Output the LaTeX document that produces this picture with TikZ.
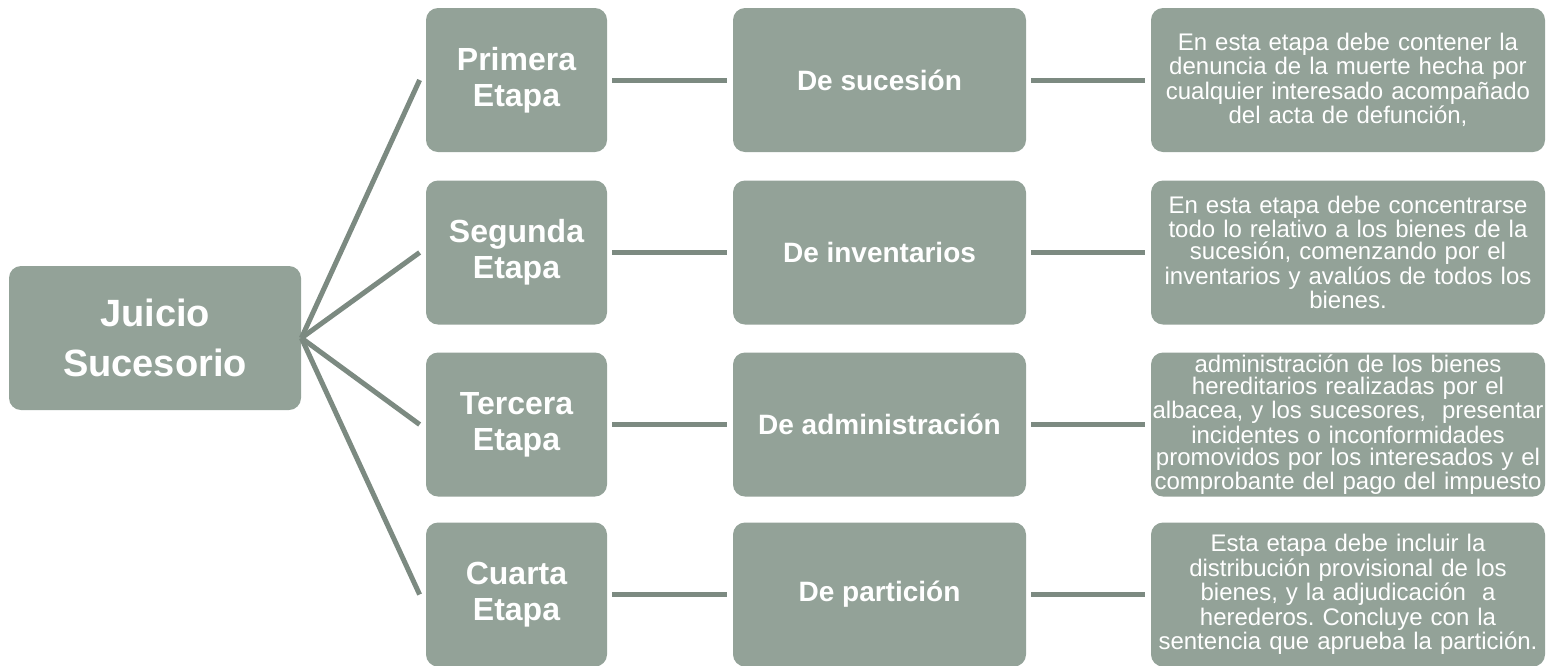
\documentclass[tikz,border=0pt]{standalone}
\usepackage{fontspec}
\setmainfont{Liberation Sans}
\usepackage{tikz}
\usetikzlibrary{calc}
\definecolor{cajaverde}{RGB}{147,162,152}
\definecolor{lineaverde}{RGB}{124,138,129}
\frenchspacing

\begin{document}
\begin{tikzpicture}[x=0.5pt,y=-0.5pt,
every node/.style={rounded corners=6pt,fill=cajaverde,text=white,
align=center,inner sep=0pt},
raiz/.style={minimum width=146pt,minimum height=72pt,
font=\fontsize{19}{25}\selectfont\bfseries},
etapa/.style={minimum width=90.5pt,minimum height=72pt,
font=\fontsize{16}{18}\selectfont\bfseries},
tema/.style={minimum width=146.5pt,minimum height=72pt,
font=\fontsize{14}{17}\selectfont\bfseries},
detalle/.style={minimum height=72pt,text width=197pt,
font=\fontsize{12}{11}\selectfont},
union/.style={draw=lineaverde,line width=2.5pt}]
\useasboundingbox (0,0) rectangle (1547,665);

\node[raiz] (juicio) at (155,338) {Juicio\\Sucesorio};

\node[etapa] (e1) at (516.5,80)    {Primera\\Etapa};
\node[etapa] (e2) at (516.5,252.5) {Segunda\\Etapa};
\node[etapa] (e3) at (516.5,424.5) {Tercera\\Etapa};
\node[etapa] (e4) at (516.5,594.5) {Cuarta\\Etapa};

\node[tema] (t1) at (879.5,80)    {De sucesión};
\node[tema] (t2) at (879.5,252.5) {De inventarios};
\node[tema] (t3) at (879.5,424.5) {De administración};
\node[tema] (t4) at (879.5,594.5) {De partición};

\node[detalle] (d1) at (1348,80) {En esta etapa debe contener la\\
denuncia de la muerte hecha por\\cualquier interesado acompañado\\
del acta de defunción,};
\node[detalle] (d2) at (1348,252.5) {En esta etapa debe concentrarse\\
todo lo relativo a los bienes de la\\sucesión, comenzando por el\\
inventarios y avalúos de todos los\\bienes.};
\node[detalle] (d3) at (1348,424.5) {administración de los bienes\\
hereditarios realizadas por el\\albacea, y los sucesores,~ presentar\\
incidentes o inconformidades\\promovidos por los interesados y el\\
comprobante del pago del impuesto};
\node[detalle] (d4) at (1348,594.5) {Esta etapa debe incluir la\\
distribución provisional de los\\bienes, y la adjudicación~ a\\
herederos. Concluye con la\\sentencia que aprueba la partición.};

\draw[union] (juicio.east) -- ([xshift=-3pt]e1.west);
\draw[union] (juicio.east) -- ([xshift=-3pt]e2.west);
\draw[union] (juicio.east) -- ([xshift=-3pt]e3.west);
\draw[union] (juicio.east) -- ([xshift=-3pt]e4.west);

\draw[union] ([xshift=2.5pt]e1.east) -- ([xshift=-3pt]t1.west);
\draw[union] ([xshift=2.5pt]e2.east) -- ([xshift=-3pt]t2.west);
\draw[union] ([xshift=2.5pt]e3.east) -- ([xshift=-3pt]t3.west);
\draw[union] ([xshift=2.5pt]e4.east) -- ([xshift=-3pt]t4.west);

\draw[union] ([xshift=2.5pt]t1.east) -- ([xshift=-3pt]d1.west);
\draw[union] ([xshift=2.5pt]t2.east) -- ([xshift=-3pt]d2.west);
\draw[union] ([xshift=2.5pt]t3.east) -- ([xshift=-3pt]d3.west);
\draw[union] ([xshift=2.5pt]t4.east) -- ([xshift=-3pt]d4.west);
\end{tikzpicture}
\end{document}
